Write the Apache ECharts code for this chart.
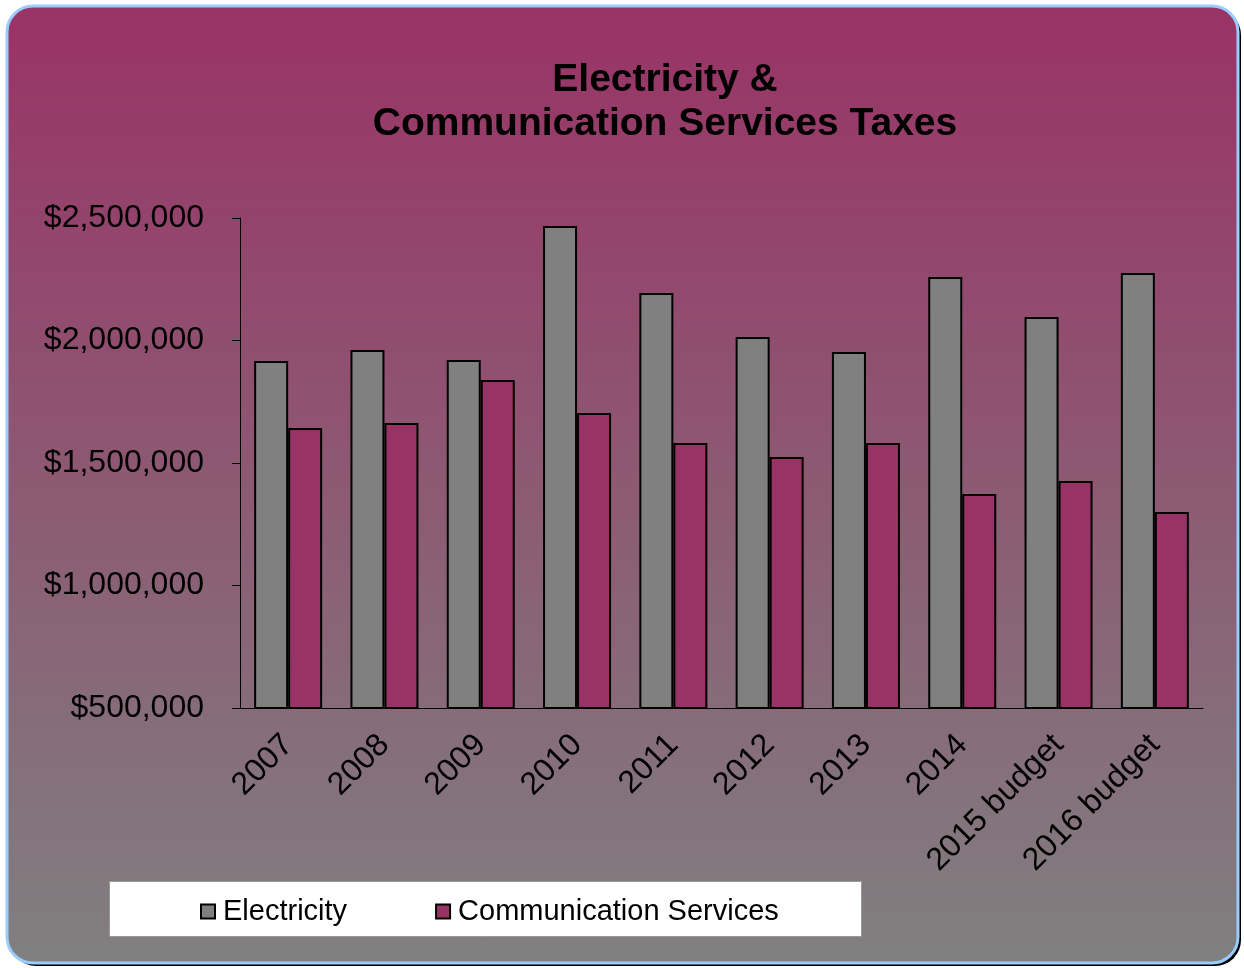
<!DOCTYPE html>
<html>
<head>
<meta charset="utf-8">
<script src="https://cdn.jsdelivr.net/npm/echarts@6/dist/echarts.min.js"></script>
<style>
  html, body { margin: 0; padding: 0; background: #fff; }
  #chart-container { width: 1244px; height: 968px; }
</style>
</head>
<body>
<div id="chart-container"></div>
<script>
var dom = document.getElementById("chart-container");
var myChart = echarts.init(dom, null, { renderer: "canvas" });

const years = ["2007", "2008", "2009", "2010", "2011", "2012", "2013", "2014", "2015 budget", "2016 budget"];
const electricity = [1916000, 1961000, 1920000, 2467000, 2194000, 2014000, 1953000, 2259000, 2096000, 2276000];
const communication = [1643000, 1663000, 1839000, 1704000, 1582000, 1524000, 1582000, 1373000, 1427000, 1300000];

const FONT = "'Liberation Sans', Arial, sans-serif";

// format $2,500,000
function money(v) {
  return "$" + v.toString().replace(/\B(?=(\d{3})+(?!\d))/g, ",");
}

var option = {
  animation: false,
  textStyle: { fontFamily: FONT },
  title: {
    text: "Electricity &\nCommunication Services Taxes",
    left: 660,
    textAlign: "center",
    top: 53,
    textStyle: {
      fontSize: 39,
      fontWeight: "bold",
      color: "#000",
      lineHeight: 44,
      fontFamily: FONT,
    },
  },
  graphic: [
    {
      // drop shadow of the frame
      type: "rect",
      z: -12,
      silent: true,
      shape: { x: 10, y: 9, width: 1231, height: 957, r: 26 },
      style: { fill: "#000" },
    },
    {
      type: "rect",
      z: -10,
      silent: true,
      shape: { x: 7, y: 6, width: 1231, height: 957, r: 26 },
      style: {
        fill: new echarts.graphic.LinearGradient(0, 0, 0, 1, [
          { offset: 0, color: "#993366" },
          { offset: 1, color: "#808080" },
        ]),
        stroke: "#99ccff",
        lineWidth: 3,
      },
    },
    {
      type: "rect",
      z: -5,
      silent: true,
      shape: { x: 109.5, y: 881.5, width: 752, height: 55 },
      style: {
        fill: "#fff",
        stroke: "#999",
        lineWidth: 1,
      },
    },
  ],
  legend: {
    left: 195,
    top: 892,
    itemWidth: 14,
    itemHeight: 14,
    itemGap: 88,
    icon: "rect",
    textStyle: { fontSize: 29, color: "#000", fontFamily: FONT, padding: [0, 0, 0, 3] },
    data: ["Electricity", "Communication Services"],
  },
  grid: { left: 240, right: 41, top: 218, bottom: 260 },
  xAxis: {
    type: "category",
    data: years,
    axisLine: { lineStyle: { color: "#000", width: 1 } },
    axisTick: { alignWithLabel: false, length: 8, lineStyle: { color: "#000" } },
    axisLabel: {
      rotate: 45,
      margin: 32,
      fontSize: 32,
      color: "#000",
      fontFamily: FONT,
    },
  },
  yAxis: {
    type: "value",
    min: 500000,
    max: 2500000,
    interval: 500000,
    axisLine: { show: true, lineStyle: { color: "#000", width: 1 } },
    axisTick: { show: true, length: 8, lineStyle: { color: "#000" } },
    splitLine: { show: false },
    axisLabel: {
      margin: 36,
      fontSize: 32,
      color: "#000",
      fontFamily: FONT,
      formatter: money,
    },
  },
  series: [
    {
      name: "Electricity",
      type: "bar",
      data: electricity,
      barWidth: 34,
      barGap: "0%",
      itemStyle: { color: "#808080", borderColor: "#000", borderWidth: 2 },
    },
    {
      name: "Communication Services",
      type: "bar",
      data: communication,
      barWidth: 34,
      itemStyle: { color: "#993366", borderColor: "#000", borderWidth: 2 },
    },
  ],
};

myChart.setOption(option);
window.addEventListener("resize", myChart.resize);
</script>
</body>
</html>
